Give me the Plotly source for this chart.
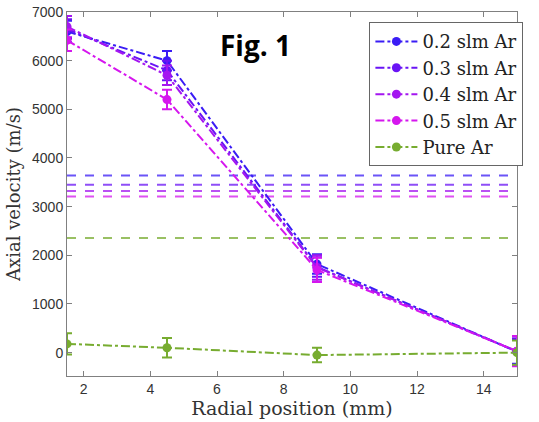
import plotly.graph_objects as go

# Radial measurement positions (mm)
radial_mm = [1.5, 4.5, 9, 15]

series_names = ["0.2 slm Ar", "0.3 slm Ar", "0.4 slm Ar", "0.5 slm Ar", "Pure Ar"]
series_colors = ["#3a1cf5", "#6a14f5", "#a416f0", "#d516ee", "#77ac30"]

# Axial velocity (m/s) and uncertainty per series
v_02 = [6600, 6000, 1820, 20]
v_03 = [6650, 5800, 1760, 20]
v_04 = [6700, 5700, 1750, 30]
v_05 = [6420, 5200, 1700, 30]
v_pure = [180, 100, -50, 0]

e_02 = [220, 200, 200, 250]
e_03 = [200, 200, 200, 270]
e_04 = [220, 200, 250, 300]
e_05 = [220, 200, 250, 310]
e_pure = [220, 200, 150, 250]

# Reference velocity level per series (m/s)
ref_levels = [3640, 3450, 3320, 3210, 2355]

values = [v_02, v_03, v_04, v_05, v_pure]
errors = [e_02, e_03, e_04, e_05, e_pure]

fig = go.Figure()

# Horizontal reference levels
for lvl, col in zip(ref_levels, series_colors):
    fig.add_trace(go.Scatter(
        x=[radial_mm[0], radial_mm[-1]], y=[lvl, lvl], mode="lines",
        line=dict(color=col, width=2, dash="dash"), opacity=0.75,
        showlegend=False, hoverinfo="skip"))

for name, col, v, e in zip(series_names, series_colors, values, errors):
    fig.add_trace(go.Scatter(
        x=radial_mm, y=v, name=name, mode="lines+markers",
        line=dict(color=col, width=2, dash="dashdot"),
        marker=dict(color=col, size=9),
        error_y=dict(type="data", array=e, color=col, thickness=2, width=5)))

axis_common = dict(
    showline=True, linecolor="#808080", linewidth=1, mirror="ticks",
    ticks="inside", ticklen=5, tickcolor="#808080",
    showgrid=False, zeroline=False, automargin=False,
    tickfont=dict(family="Liberation Sans, Arial", size=14, color="#333333"),
)

fig.update_xaxes(
    range=[1.5, 15], tickvals=[2, 4, 6, 8, 10, 12, 14],
    title=dict(text="Radial position (mm)", standoff=4,
               font=dict(family="DejaVu Serif", size=19, color="#333333")),
    **axis_common)
fig.update_yaxes(
    range=[-480, 7000], tickvals=list(range(0, 7001, 1000)),
    title=dict(text="Axial velocity (m/s)", standoff=6,
               font=dict(family="DejaVu Serif", size=18, color="#333333")),
    **axis_common)

fig.add_annotation(
    text="<b>Fig. 1</b>", xref="paper", yref="paper", x=0.418, y=0.909,
    xanchor="center", yanchor="middle", showarrow=False,
    font=dict(family="Open Sans", size=28, color="black"))

fig.update_layout(
    width=539, height=422,
    margin=dict(l=67, r=22, t=12, b=46),
    plot_bgcolor="white", paper_bgcolor="white",
    legend=dict(
        x=0.672, y=0.972, xanchor="left", yanchor="top",
        bordercolor="#666666", borderwidth=1, bgcolor="white",
        font=dict(family="DejaVu Serif", size=18, color="#222222"),
        tracegroupgap=0, itemwidth=42),
)

fig.write_html("out.html")
